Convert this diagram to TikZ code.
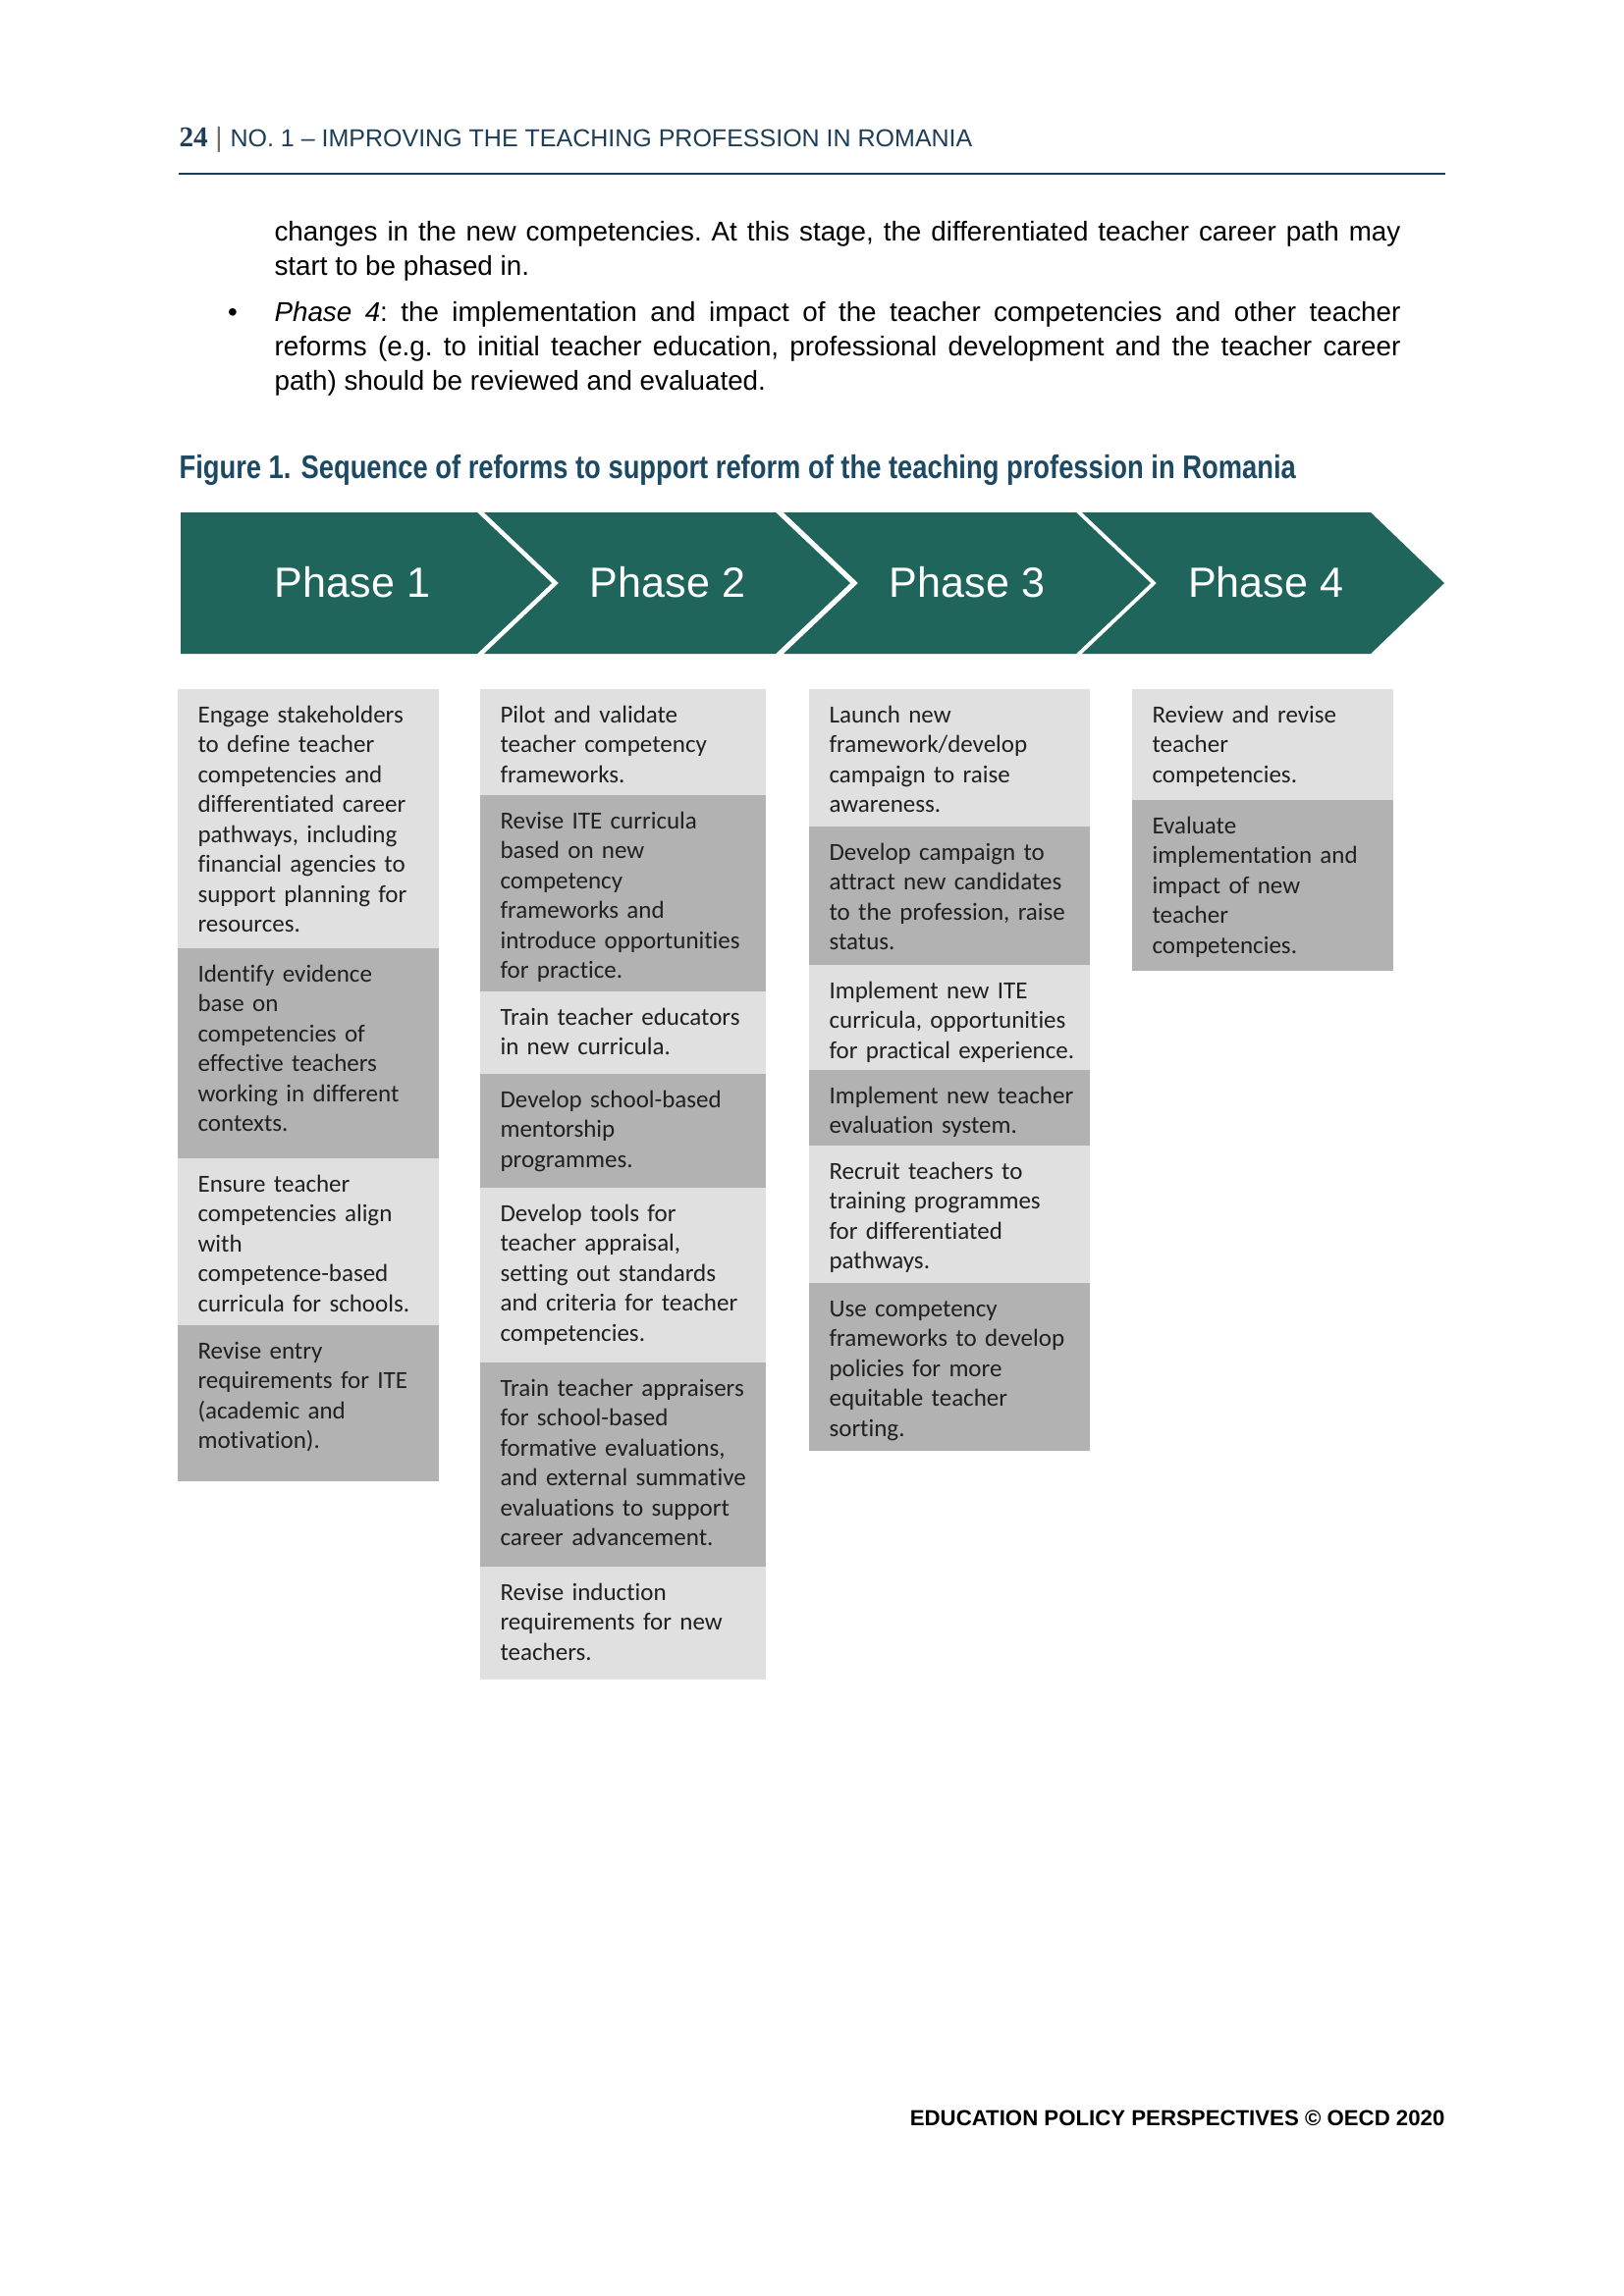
\documentclass[tikz,border=0pt]{standalone}
\usepackage{fontspec}
\setmainfont{Liberation Sans}
\newfontfamily\arialfont{Liberation Sans}
\newfontfamily\narrowfont[FakeStretch=0.82]{Liberation Sans}
\newfontfamily\timesfont{Liberation Serif}
\newfontfamily\calibrifont[Ligatures=CommonOff]{Carlito}
\definecolor{chev}{RGB}{31,101,91}
\definecolor{lightbox}{RGB}{224,224,224}
\definecolor{darkbox}{RGB}{178,178,178}
\definecolor{headcol}{RGB}{30,62,88}
\definecolor{titlecol}{RGB}{28,74,100}
\definecolor{boxtextcol}{RGB}{32,32,32}
\definecolor{sepcol}{RGB}{110,110,110}
\newcommand\rbox[7]{%
  \fill[#6] (#2,#3) rectangle (#4,#5);
  \node[boxtext] (#1) at (#2+20,#3+34) {#7};}
\tikzset{
  boxtext/.style={anchor=base west, inner sep=0pt, text width=100pt, align=left,
    font=\calibrifont\fontsize{9}{11}\selectfont, text=boxtextcol},
  phaselbl/.style={anchor=base, inner sep=0pt, text=white,
    font=\arialfont\fontsize{15.5}{18}\selectfont},
  bodytext/.style={anchor=base west, inner sep=0pt, text width=412.8pt, align=justify,
    font=\arialfont\fontsize{10}{12.7}\selectfont\frenchspacing},
}
\begin{document}
\begin{tikzpicture}[x=0.35993pt, y=-0.35993pt]
\fill[white] (0,0) rectangle (1654,2339);
\useasboundingbox (0,0) rectangle (1654,2339);

% header
\node[anchor=base west, inner sep=0pt, font=\timesfont\bfseries\fontsize{10.5}{13}\selectfont, text=headcol] (pg) at (182,149) {24};
\node[anchor=base, inner sep=0pt, font=\arialfont\fontsize{10}{12}\selectfont, text=sepcol] (sep) at (223,149) {|};
\node[anchor=base west, inner sep=0pt, font=\arialfont\fontsize{9}{11}\selectfont, text=headcol] (hd) at (234,149) {NO. 1 – IMPROVING THE TEACHING PROFESSION IN ROMANIA};
\coordinate (rl) at (182,177);
\coordinate (rr) at (1472,177);
\draw[headcol, line width=0.9pt] (rl) -- (rr);

% body text
\node[bodytext] (p1) at (279,245) {changes in the new competencies. At this stage, the differentiated teacher career path may\linebreak start to be phased in.};
\node[anchor=base, inner sep=0pt, font=\arialfont\fontsize{10}{12}\selectfont] (bul) at (237,327) {•};
\node[bodytext] (p2) at (279,327) {\textit{Phase 4}: the implementation and impact of the teacher competencies and other teacher\linebreak reforms (e.g. to initial teacher education, professional development and the teacher career\linebreak path) should be reviewed and evaluated.};

% title
\node[anchor=base west, inner sep=0pt, font=\narrowfont\bfseries\fontsize{12}{14}\selectfont, text=titlecol] (title) at (182,487) {Figure 1. Sequence of reforms to support reform of the teaching profession in Romania};

% chevrons
\fill[chev] (184,522) -- (486,522) -- (562,594) -- (486,666) -- (184,666) -- cycle;
\fill[chev] (493,522) -- (790,522) -- (866,594) -- (790,666) -- (493,666) -- (569,594) -- cycle;
\fill[chev] (798,522) -- (1096,522) -- (1172,594) -- (1096,666) -- (798,666) -- (874,594) -- cycle;
\fill[chev] (1102,522) -- (1396,522) -- (1471,594) -- (1396,666) -- (1102,666) -- (1178,594) -- cycle;
\node[phaselbl] (ph1) at (359,608) {Phase 1};
\node[phaselbl] (ph2) at (680,608) {Phase 2};
\node[phaselbl] (ph3) at (985,608) {Phase 3};
\node[phaselbl] (ph4) at (1289,608) {Phase 4};

% column 1
\rbox{c1a}{181}{702}{447}{966}{lightbox}{Engage stakeholders\\to define teacher\\competencies and\\differentiated career\\pathways, including\\financial agencies to\\support planning for\\resources.}
\rbox{c1b}{181}{966}{447}{1180}{darkbox}{Identify evidence\\base on\\competencies of\\effective teachers\\working in different\\contexts.}
\rbox{c1c}{181}{1180}{447}{1350}{lightbox}{Ensure teacher\\competencies align\\with\\competence-based\\curricula for schools.}
\rbox{c1d}{181}{1350}{447}{1509}{darkbox}{Revise entry\\requirements for ITE\\(academic and\\motivation).}

% column 2
\rbox{c2a}{489}{702}{780}{810}{lightbox}{Pilot and validate\\teacher competency\\frameworks.}
\rbox{c2b}{489}{810}{780}{1010}{darkbox}{Revise ITE curricula\\based on new\\competency\\frameworks and\\introduce opportunities\\for practice.}
\rbox{c2c}{489}{1010}{780}{1094}{lightbox}{Train teacher educators\\in new curricula.}
\rbox{c2d}{489}{1094}{780}{1210}{darkbox}{Develop school-based\\mentorship\\programmes.}
\rbox{c2e}{489}{1210}{780}{1388}{lightbox}{Develop tools for\\teacher appraisal,\\setting out standards\\and criteria for teacher\\competencies.}
\rbox{c2f}{489}{1388}{780}{1596}{darkbox}{Train teacher appraisers\\for school-based\\formative evaluations,\\and external summative\\evaluations to support\\career advancement.}
\rbox{c2g}{489}{1596}{780}{1711}{lightbox}{Revise induction\\requirements for new\\teachers.}

% column 3
\rbox{c3a}{824}{702}{1110}{842}{lightbox}{Launch new\\framework/develop\\campaign to raise\\awareness.}
\rbox{c3b}{824}{842}{1110}{983}{darkbox}{Develop campaign to\\attract new candidates\\to the profession, raise\\status.}
\rbox{c3c}{824}{983}{1110}{1090}{lightbox}{Implement new ITE\\curricula, opportunities\\for practical experience.}
\rbox{c3d}{824}{1090}{1110}{1167}{darkbox}{Implement new teacher\\evaluation system.}
\rbox{c3e}{824}{1167}{1110}{1307}{lightbox}{Recruit teachers to\\training programmes\\for differentiated\\pathways.}
\rbox{c3f}{824}{1307}{1110}{1478}{darkbox}{Use competency\\frameworks to develop\\policies for more\\equitable teacher\\sorting.}

% column 4
\rbox{c4a}{1153}{702}{1419}{815}{lightbox}{Review and revise\\teacher\\competencies.}
\rbox{c4b}{1153}{815}{1419}{989}{darkbox}{Evaluate\\implementation and\\impact of new\\teacher\\competencies.}

% footer
\node[anchor=base east, inner sep=0pt, font=\arialfont\bfseries\fontsize{8}{10}\selectfont] (foot) at (1472,2165) {EDUCATION POLICY PERSPECTIVES © OECD 2020};
\end{tikzpicture}
\end{document}
